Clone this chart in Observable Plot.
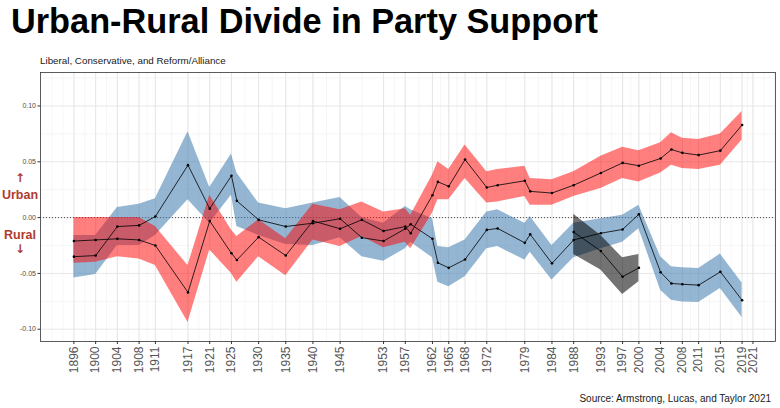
<!DOCTYPE html>
<html><head><meta charset="utf-8">
<script src="https://cdn.jsdelivr.net/npm/d3@7"></script>
<script src="https://cdn.jsdelivr.net/npm/@observablehq/plot@0.6"></script>
<style>
body{margin:0;background:#fff;font-family:"Liberation Sans",Arial,Helvetica,sans-serif;}
#wrap{position:relative;width:780px;height:408px;overflow:hidden;background:#fff;}
.t{position:absolute;white-space:nowrap;line-height:1;}
#title{left:11px;top:4px;font-size:34.3px;font-weight:bold;color:#000;}
#subtitle{left:40px;top:56px;font-size:9.8px;color:#1a1a1a;}
#caption{right:9px;top:394px;font-size:10px;color:#1a1a1a;}
.side{left:0;width:40px;text-align:center;font-size:12.5px;font-weight:bold;color:#b03a2e;}
.arrow{font-family:"DejaVu Sans",sans-serif;font-size:12px;}
#chart{position:absolute;left:0;top:66px;}
</style></head>
<body>
<div id="wrap">
  <div id="chart"></div>
  <div class="t" id="title">Urban-Rural Divide in Party Support</div>
  <div class="t" id="subtitle">Liberal, Conservative, and Reform/Alliance</div>
  <div class="t side arrow" style="top:172px">↑</div>
  <div class="t side" style="top:189px">Urban</div>
  <div class="t side" style="top:229px">Rural</div>
  <div class="t side arrow" style="top:243px">↓</div>
  <div class="t" id="caption">Source: Armstrong, Lucas, and Taylor 2021</div>
</div>
<script>
// ---- data ----
const years = [1896,1900,1904,1908,1911,1917,1921,1925,1926,1930,1935,1940,1945,1949,1953,1957,1958,1962,1963,1965,1968,1972,1974,1979,1980,1984,1988,1993,1997,2000,2004,2006,2008,2011,2015,2019];

const libEst = [-0.021,-0.020,-0.019,-0.020,-0.025,-0.067,-0.003,-0.032,-0.038,-0.0175,-0.034,-0.003,-0.010,-0.002,-0.012,-0.008,-0.014,0.020,0.032,0.028,0.052,0.027,0.029,0.033,0.0235,0.022,0.029,0.040,0.049,0.0465,0.053,0.061,0.058,0.056,0.060,0.083];
const libLo  = [-0.041,-0.040,-0.035,-0.037,-0.043,-0.094,-0.029,-0.050,-0.058,-0.035,-0.052,-0.020,-0.026,-0.017,-0.027,-0.022,-0.028,0.004,0.016,0.016,0.035,0.013,0.014,0.019,0.011,0.011,0.019,0.026,0.035,0.032,0.040,0.047,0.044,0.043,0.047,0.0695];
const libHi  = [0.000,0.000,0.000,0.000,-0.008,-0.043,0.020,-0.011,-0.017,-0.002,-0.019,0.012,0.007,0.014,0.005,0.008,0.002,0.038,0.050,0.043,0.065,0.041,0.043,0.046,0.035,0.034,0.041,0.055,0.063,0.060,0.067,0.076,0.071,0.070,0.075,0.095];

const conEst = [-0.035,-0.034,-0.008,-0.007,0.001,0.047,0.008,0.0375,0.015,-0.002,-0.008,-0.005,-0.001,-0.018,-0.021,-0.010,-0.006,-0.019,-0.0405,-0.045,-0.0375,-0.011,-0.0097,-0.0226,-0.015,-0.041,-0.020,-0.014,-0.0106,0.003,-0.049,-0.059,-0.0597,-0.0605,-0.0486,-0.074];
const conLo  = [-0.054,-0.051,-0.025,-0.025,-0.016,0.016,-0.005,0.020,-0.008,-0.016,-0.024,-0.025,-0.018,-0.035,-0.039,-0.028,-0.022,-0.036,-0.058,-0.062,-0.053,-0.028,-0.026,-0.038,-0.031,-0.056,-0.036,-0.028,-0.022,-0.010,-0.065,-0.074,-0.0755,-0.076,-0.0635,-0.0895];
const conHi  = [-0.016,-0.016,0.009,0.012,0.017,0.077,0.027,0.057,0.040,0.013,0.008,0.013,0.018,0.000,-0.005,0.010,0.007,-0.001,-0.026,-0.027,-0.020,0.005,0.007,-0.005,0.001,-0.025,-0.005,-0.001,0.002,0.011,-0.035,-0.044,-0.045,-0.0456,-0.0327,-0.0585];

const refYears = [1988,1993,1997,2000];
const refEst = [-0.013,-0.030,-0.053,-0.045];
const refLo  = [-0.033,-0.047,-0.069,-0.0575];
const refHi  = [0.003,-0.016,-0.036,-0.033];

const tickYears = [1896,1900,1904,1908,1911,1917,1921,1925,1930,1935,1940,1945,1953,1957,1962,1965,1968,1972,1979,1984,1988,1993,1997,2000,2004,2008,2011,2015,2019,2021];
const yTicks = [-0.10,-0.05,0.00,0.05,0.10];
const yMinor = [-0.075,-0.025,0.025,0.075,0.125];

// ---- tables ----
const lib = years.map((year,i)=>({year, est:libEst[i], lo:libLo[i], hi:libHi[i]}));
const con = years.map((year,i)=>({year, est:conEst[i], lo:conLo[i], hi:conHi[i]}));
const ref = refYears.map((year,i)=>({year, est:refEst[i], lo:refLo[i], hi:refHi[i]}));

// minor x breaks (midpoints between labelled breaks, extended one step each side)
const step = tickYears[1]-tickYears[0];
const ext = [tickYears[0]-step, ...tickYears, tickYears[tickYears.length-1]+step];
const xMinor = [];
for (let i=0;i<ext.length-1;i++){ xMinor.push(ext[i]); xMinor.push((ext[i]+ext[i+1])/2); }
xMinor.push(ext[ext.length-1]);

const chart = Plot.plot({
  width: 780, height: 319,
  marginTop: 6, marginBottom: 44, marginLeft: 40, marginRight: 5,
  style: {background: "transparent", fontFamily: "Liberation Sans, Arial, sans-serif", overflow: "visible"},
  x: {type: "linear", domain: [1889.85, 2025.15], label: null},
  y: {domain: [-0.111, 0.130], label: null},
  marks: [
    Plot.ruleX(xMinor, {stroke: "#ececec", strokeWidth: 0.5}),
    Plot.ruleY(yMinor, {stroke: "#ececec", strokeWidth: 0.5}),
    Plot.ruleX(tickYears, {stroke: "#e4e4e4", strokeWidth: 0.9}),
    Plot.ruleY(yTicks, {stroke: "#e4e4e4", strokeWidth: 0.9}),
    Plot.ruleY([0], {stroke: "#222", strokeWidth: 0.8, strokeDasharray: "1,2"}),
    Plot.areaY(con, {x: "year", y1: "lo", y2: "hi", fill: "#4682b4", fillOpacity: 0.58}),
    Plot.areaY(lib, {x: "year", y1: "lo", y2: "hi", fill: "#ff0000", fillOpacity: 0.5}),
    Plot.areaY(ref, {x: "year", y1: "lo", y2: "hi", fill: "#000000", fillOpacity: 0.55}),
    Plot.lineY(con, {x: "year", y: "est", stroke: "#000", strokeWidth: 0.8}),
    Plot.lineY(lib, {x: "year", y: "est", stroke: "#000", strokeWidth: 0.8}),
    Plot.lineY(ref, {x: "year", y: "est", stroke: "#000", strokeWidth: 0.8}),
    Plot.dot(con, {x: "year", y: "est", r: 1.3, fill: "#000", stroke: null}),
    Plot.dot(lib, {x: "year", y: "est", r: 1.3, fill: "#000", stroke: null}),
    Plot.dot(ref, {x: "year", y: "est", r: 1.3, fill: "#000", stroke: null}),
    Plot.frame({stroke: "#333", strokeWidth: 0.8}),
    Plot.axisX({ticks: tickYears, tickFormat: d => String(d), tickRotate: -90, fontSize: 12, tickSize: 3, tickPadding: 2, color: "#555", stroke: "#333"}),
    Plot.axisY({ticks: yTicks, tickFormat: d => d.toFixed(2), fontSize: 7, tickSize: 2.5, tickPadding: 2, color: "#4d4d4d", stroke: "#333"})
  ]
});
document.getElementById("chart").appendChild(chart);
</script>
</body></html>
